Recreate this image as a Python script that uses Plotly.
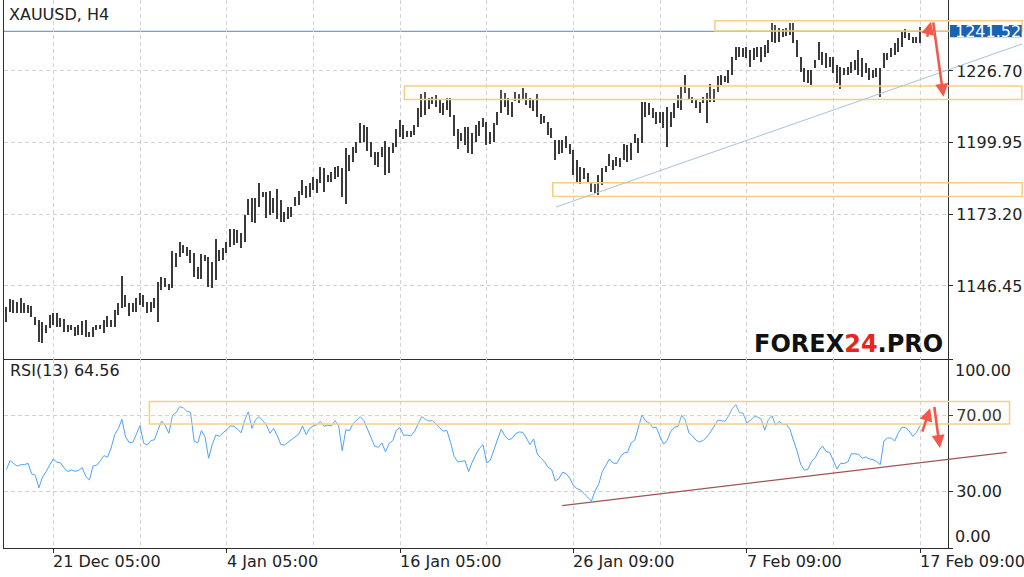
import plotly.graph_objects as go

# ---------------- data ----------------
tick_labels = ["21 Dec 05:00", "4 Jan 05:00", "16 Jan 05:00", "26 Jan 09:00", "7 Feb 09:00", "17 Feb 09:00"]
tick_bars = [13, 61, 109, 157, 205, 253]
grid_bars = [37, 85, 133, 181, 229]
price_ticks = [1146.45, 1173.20, 1199.95, 1226.70]
rsi_ticks = [0, 30, 70, 100]
last_price = 1241.52
rsi_last = 64.56

highs = [
    1138.7, 1141.5, 1141.2, 1140.6, 1141.8, 1140.0, 1139.3, 1139.1, 1135.0, 1133.7,
    1133.1, 1131.9, 1135.6, 1136.5, 1136.5, 1134.4, 1134.0, 1131.9, 1131.9, 1131.0,
    1131.9, 1133.5, 1133.7, 1129.4, 1131.2, 1131.9, 1131.9, 1133.7, 1135.2, 1133.7,
    1137.5, 1140.0, 1150.2, 1143.1, 1140.0, 1140.0, 1141.8, 1143.7, 1143.1, 1140.6,
    1140.6, 1141.8, 1148.0, 1149.8, 1149.3, 1147.2, 1159.5, 1158.6, 1163.0, 1161.7,
    1160.9, 1159.9, 1158.6, 1153.6, 1158.4, 1158.0, 1157.2, 1155.5, 1164.0, 1159.9,
    1160.5, 1163.0, 1167.6, 1167.6, 1167.3, 1166.3, 1172.9, 1178.8, 1179.2, 1179.2,
    1184.8, 1181.6, 1181.6, 1182.0, 1179.2, 1182.5, 1178.5, 1174.2, 1176.0, 1175.8,
    1179.8, 1182.0, 1186.0, 1183.8, 1185.0, 1187.0, 1186.3, 1190.7, 1190.4, 1187.9,
    1189.1, 1190.7, 1191.2, 1190.4, 1197.8, 1195.3, 1198.4, 1200.3, 1207.2, 1206.5,
    1205.9, 1200.3, 1196.6, 1196.6, 1198.4, 1200.7, 1198.4, 1199.7, 1204.9, 1208.4,
    1206.5, 1204.4, 1204.4, 1206.5, 1212.8, 1218.1, 1219.0, 1216.5, 1217.1, 1217.7,
    1215.9, 1214.9, 1216.5, 1216.5, 1210.3, 1204.9, 1203.7, 1205.7, 1205.7, 1203.4,
    1206.5, 1208.1, 1209.0, 1207.8, 1204.0, 1207.2, 1211.5, 1219.6, 1218.6, 1216.5,
    1215.2, 1219.0, 1218.1, 1220.2, 1218.6, 1216.5, 1216.1, 1218.1, 1210.6, 1209.9,
    1207.8, 1205.3, 1200.9, 1200.9, 1200.9, 1202.4, 1199.4, 1197.2, 1193.5, 1191.0,
    1190.4, 1188.5, 1185.4, 1184.5, 1187.9, 1190.4, 1191.2, 1195.6, 1193.5, 1194.7,
    1194.1, 1199.4, 1199.1, 1199.7, 1203.2, 1201.6, 1215.2, 1215.2, 1214.6, 1212.8,
    1211.5, 1211.5, 1211.5, 1213.4, 1211.5, 1214.6, 1217.7, 1220.8, 1225.2, 1220.2,
    1217.1, 1215.9, 1215.2, 1217.1, 1218.6, 1221.8, 1219.9, 1224.8, 1225.2, 1224.8,
    1227.1, 1232.0, 1235.8, 1235.8, 1235.2, 1235.8, 1234.5, 1235.2, 1235.8, 1235.8,
    1236.4, 1238.3, 1244.7, 1243.9, 1242.6, 1242.3, 1242.6, 1244.5, 1244.7, 1238.3,
    1232.0, 1227.7, 1227.1, 1227.1, 1230.8, 1237.6, 1233.9, 1233.3, 1232.0, 1232.0,
    1228.9, 1228.3, 1227.7, 1228.3, 1230.2, 1230.8, 1234.5, 1231.4, 1229.6, 1227.7,
    1227.1, 1227.7, 1227.7, 1233.3, 1233.3, 1235.2, 1237.0, 1238.9, 1241.4, 1242.3,
    1240.8, 1239.5, 1239.3, 1243.2,
]

lows = [
    1133.1, 1136.8, 1136.5, 1136.5, 1136.5, 1136.5, 1136.5, 1135.0, 1131.9, 1125.6,
    1125.3, 1128.8, 1130.6, 1131.9, 1131.2, 1131.2, 1129.4, 1129.4, 1130.0, 1127.8,
    1128.1, 1128.1, 1127.5, 1127.3, 1127.5, 1130.0, 1130.3, 1129.0, 1131.2, 1131.0,
    1131.2, 1135.6, 1138.1, 1138.7, 1135.2, 1136.8, 1136.8, 1139.3, 1138.7, 1136.2,
    1136.8, 1138.1, 1133.1, 1144.9, 1146.2, 1144.9, 1145.6, 1153.6, 1157.2, 1158.6,
    1157.6, 1155.1, 1149.9, 1148.9, 1148.9, 1155.9, 1146.2, 1145.6, 1148.7, 1155.9,
    1156.1, 1158.6, 1160.9, 1161.7, 1162.6, 1160.5, 1163.0, 1172.9, 1170.4, 1170.1,
    1176.0, 1179.8, 1171.7, 1172.9, 1173.6, 1171.3, 1170.3, 1170.3, 1171.3, 1172.3,
    1176.3, 1176.7, 1180.4, 1179.2, 1179.6, 1182.3, 1181.0, 1185.0, 1181.6, 1185.4,
    1185.4, 1186.3, 1187.2, 1179.6, 1177.0, 1189.5, 1192.8, 1196.2, 1199.7, 1200.3,
    1196.9, 1194.5, 1191.6, 1191.0, 1194.5, 1187.9, 1188.7, 1196.2, 1198.4, 1202.0,
    1201.2, 1202.0, 1202.2, 1202.8, 1205.7, 1209.6, 1210.3, 1212.4, 1214.4, 1213.1,
    1210.9, 1210.3, 1212.1, 1209.6, 1202.4, 1197.5, 1200.7, 1199.1, 1196.0, 1195.7,
    1200.3, 1202.4, 1205.9, 1199.1, 1199.4, 1200.3, 1206.5, 1210.9, 1213.4, 1210.3,
    1209.4, 1215.6, 1214.6, 1215.9, 1214.0, 1212.8, 1211.9, 1209.6, 1206.9, 1207.2,
    1202.8, 1201.6, 1193.5, 1195.7, 1196.0, 1198.0, 1195.7, 1187.9, 1185.4, 1184.5,
    1186.3, 1184.8, 1181.6, 1181.0, 1180.4, 1184.1, 1189.1, 1191.2, 1189.7, 1191.2,
    1190.7, 1193.5, 1192.8, 1193.5, 1199.7, 1196.2, 1199.7, 1209.6, 1210.3, 1209.0,
    1206.9, 1207.4, 1205.3, 1198.2, 1205.9, 1209.0, 1212.8, 1212.1, 1218.4, 1215.9,
    1214.6, 1212.8, 1211.1, 1214.6, 1207.4, 1215.2, 1215.2, 1218.9, 1221.5, 1222.7,
    1222.3, 1225.2, 1230.8, 1232.0, 1232.0, 1231.4, 1228.1, 1230.8, 1232.0, 1230.2,
    1232.0, 1233.3, 1237.6, 1237.0, 1237.6, 1239.5, 1239.8, 1240.1, 1237.0, 1232.0,
    1226.4, 1222.7, 1222.1, 1221.5, 1227.7, 1230.8, 1228.9, 1227.7, 1228.3, 1225.8,
    1222.1, 1219.9, 1225.2, 1225.2, 1226.1, 1227.1, 1225.2, 1224.6, 1225.8, 1223.3,
    1224.0, 1224.6, 1217.1, 1227.7, 1230.8, 1232.0, 1232.7, 1233.9, 1235.8, 1238.9,
    1238.3, 1237.0, 1237.0, 1237.0,
]

rsi = [
    41.5, 46.2, 44.7, 43.3, 44.1, 44.1, 44.8, 39.2, 38.5, 31.8,
    37.6, 40.4, 44.0, 47.1, 45.4, 45.0, 42.4, 40.4, 41.3, 40.6,
    41.0, 42.5, 37.8, 36.0, 43.4, 43.8, 46.1, 48.9, 48.0, 52.9,
    60.0, 63.2, 68.1, 58.8, 55.8, 55.9, 60.2, 64.7, 55.6, 54.5,
    56.8, 57.3, 62.6, 67.2, 64.7, 60.7, 70.2, 71.6, 74.8, 74.1,
    72.3, 71.8, 56.5, 55.6, 62.1, 58.9, 47.5, 54.7, 59.8, 59.1,
    61.0, 62.5, 64.6, 64.4, 62.8, 61.0, 67.7, 72.1, 63.3, 67.9,
    69.5, 67.0, 65.1, 60.7, 63.3, 59.5, 54.7, 54.5, 55.9, 57.2,
    58.8, 60.3, 64.6, 60.0, 63.3, 64.6, 65.3, 67.0, 64.4, 64.9,
    64.6, 67.4, 64.7, 51.5, 62.6, 62.1, 65.8, 67.6, 69.5, 67.4,
    62.6, 58.0, 53.8, 53.3, 55.6, 50.8, 55.4, 56.8, 62.3, 63.7,
    59.6, 59.8, 59.3, 61.6, 65.3, 69.5, 68.1, 67.2, 67.4, 65.3,
    63.5, 61.9, 62.1, 55.9, 48.4, 45.5, 45.7, 46.2, 40.4, 45.5,
    49.4, 52.8, 54.7, 45.0, 46.4, 51.9, 57.3, 62.8, 59.5, 57.3,
    57.9, 60.5, 61.4, 61.2, 58.2, 54.7, 57.7, 49.8, 47.5, 45.7,
    42.7, 41.5, 35.5, 36.7, 40.1, 39.4, 36.9, 33.2, 31.4, 30.7,
    28.8, 26.5, 24.8, 30.2, 33.6, 40.3, 44.0, 47.1, 45.0, 44.7,
    48.0, 50.3, 50.6, 55.6, 57.0, 64.2, 70.4, 67.2, 66.2, 63.7,
    63.7, 58.9, 54.9, 57.0, 61.8, 63.9, 64.4, 70.2, 67.7, 60.9,
    59.3, 57.0, 56.1, 57.0, 58.8, 61.4, 64.7, 67.6, 67.4, 67.0,
    69.9, 73.7, 75.8, 71.6, 71.4, 66.2, 67.4, 69.5, 69.3, 68.3,
    62.3, 67.9, 70.0, 65.1, 67.0, 65.4, 65.4, 62.8, 56.6, 51.0,
    44.0, 41.1, 41.8, 45.9, 47.8, 51.7, 54.0, 51.0, 50.6, 46.2,
    41.8, 44.8, 44.7, 45.5, 49.9, 49.8, 49.6, 47.5, 48.2, 47.1,
    46.8, 45.7, 44.1, 56.6, 58.2, 58.2, 56.6, 61.0, 63.9, 63.7,
    61.9, 59.1, 61.2, rsi_last,
]

# analyst drawings (bar index / price or RSI value)
price_zones = [(196.2, 281.3, 1241.6, 1245.5), (110.2, 281.2, 1216.1, 1221.1), (151.3, 281.3, 1179.8, 1185.0)]
rsi_zone = (39.6, 277.8, 65.6, 77.5)
price_trend = ((152.2, 1175.9), (281.3, 1236.8))
rsi_trend = ((153.9, 22.4), (277.0, 50.6))
price_arrows = [((254.9, 1238.9), (256.0, 1245.1)), ((256.6, 1245.4), (259.5, 1217.1))]
rsi_arrows = [((253.5, 60.8), (255.8, 74.0)), ((256.9, 75.4), (258.5, 52.9))]

# ---------------- figure ----------------
W, H = 1024, 577
ML, MR, MT, MB = 4, 76, 0, 29
PW, PH = W - ML - MR, H - MT - MB
XR = [-0.66, 260.75]
Y1 = [1119.18, 1253.2]
Y2 = [0, 100]
split = (PH - 359) / PH

FONT = "DejaVu Sans"
TXT = "#222222"
AX = "#2e2e2e"
GRID = "#d2d2d2"
ZONE = "#f2d088"
RED = "#f2584b"


def bx(i):
    return (i - XR[0]) / (XR[1] - XR[0])


def pxx(px):
    return (px - ML) / PW


def pxy(py):
    return (PH - (py - MT)) / PH


n = len(highs)
idx = list(range(n))
ranges = [h - l for h, l in zip(highs, lows)]

fig = go.Figure()
fig.add_trace(go.Bar(x=idx, y=ranges, base=lows, width=0.38,
                     marker=dict(color="#3a3a3a", line=dict(width=0)),
                     xaxis="x", yaxis="y", hoverinfo="skip"))
fig.add_trace(go.Scatter(x=idx, y=rsi, mode="lines",
                         line=dict(color="#4ea3f5", width=1),
                         xaxis="x2", yaxis="y2", hoverinfo="skip"))

shapes = []
# current price line
shapes.append(dict(type="line", xref="paper", yref="y", x0=0, x1=1, y0=last_price, y1=last_price,
                   line=dict(color="#4f87c6", width=1), layer="between"))
for x0, x1, y0, y1 in price_zones:
    shapes.append(dict(type="rect", xref="paper", yref="y", x0=bx(x0), x1=bx(x1), y0=y0, y1=y1,
                       line=dict(color=ZONE, width=1.5), fillcolor="rgba(255,240,205,0.12)", layer="above"))
x0, x1, y0, y1 = rsi_zone
shapes.append(dict(type="rect", xref="paper", yref="y2", x0=bx(x0), x1=bx(x1), y0=y0, y1=y1,
                   line=dict(color=ZONE, width=1.5), fillcolor="rgba(255,240,205,0.12)", layer="above"))
(a, b), (c, d) = price_trend
shapes.append(dict(type="line", xref="paper", yref="y", x0=bx(a), y0=b, x1=bx(c), y1=d,
                   line=dict(color="#a9c3db", width=1), layer="above"))
(a, b), (c, d) = rsi_trend
shapes.append(dict(type="line", xref="paper", yref="y2", x0=bx(a), y0=b, x1=bx(c), y1=d,
                   line=dict(color="#a05454", width=1.2), layer="above"))
# price label box
shapes.append(dict(type="rect", xref="paper", yref="y", x0=pxx(950), x1=pxx(1021.7),
                   y0=1239.3, y1=1243.9, fillcolor="#1c62b3", line=dict(width=0), layer="above"))

annotations = []
for (tx, ty), (hx, hy) in price_arrows:
    annotations.append(dict(x=hx, y=hy, ax=tx, ay=ty, xref="x", yref="y", axref="x", ayref="y",
                            text="", showarrow=True, arrowhead=2, arrowsize=1, arrowwidth=2.6,
                            arrowcolor=RED))
for (tx, ty), (hx, hy) in rsi_arrows:
    annotations.append(dict(x=hx, y=hy, ax=tx, ay=ty, xref="x2", yref="y2", axref="x2", ayref="y2",
                            text="", showarrow=True, arrowhead=2, arrowsize=1, arrowwidth=2.6,
                            arrowcolor=RED))
annotations.append(dict(x=pxx(952.5), y=last_price, xref="paper", yref="y", xanchor="left",
                        yanchor="middle", text=f"{last_price:.2f}", showarrow=False,
                        font=dict(family=FONT, size=16, color="white")))
annotations.append(dict(x=pxx(7), y=pxy(14), xref="paper", yref="paper", xanchor="left",
                        yanchor="middle", text="XAUUSD, H4", showarrow=False,
                        font=dict(family=FONT, size=16, color=TXT)))
annotations.append(dict(x=pxx(8), y=pxy(370.5), xref="paper", yref="paper", xanchor="left",
                        yanchor="middle", text=f"RSI(13) {rsi_last:.2f}", showarrow=False,
                        font=dict(family=FONT, size=16, color=TXT)))
annotations.append(dict(x=pxx(952.5), y=100, xref="paper", yref="y2", xanchor="left",
                        yanchor="top", text="100.00", showarrow=False,
                        font=dict(family=FONT, size=16, color=TXT)))
annotations.append(dict(x=pxx(952.5), y=0, xref="paper", yref="y2", xanchor="left",
                        yanchor="bottom", text="0.00", showarrow=False,
                        font=dict(family=FONT, size=16, color=TXT)))
annotations.append(dict(x=pxx(752), y=pxy(344.5), xref="paper", yref="paper", xanchor="left",
                        yanchor="middle", showarrow=False,
                        text='<b>FOREX<span style="color:#e5261c">24</span>.PRO</b>',
                        font=dict(family=FONT, size=24, color="#111111")))
# time labels, drawn to the right of their tick mark
for tb, tl in zip(tick_bars, tick_labels):
    annotations.append(dict(x=tb, y=pxy(561), xref="x2", yref="paper", xanchor="left",
                            yanchor="middle", xshift=-2, text=tl, showarrow=False,
                            font=dict(family=FONT, size=16, color=TXT)))

grid_common = dict(showgrid=True, gridcolor=GRID, gridwidth=1, griddash="4px,3px", zeroline=False)
minor_grid = dict(tickvals=grid_bars, showgrid=True, gridcolor=GRID, gridwidth=1,
                  griddash="4px,3px", ticks="")

fig.update_layout(
    width=W, height=H,
    margin=dict(l=ML, r=MR, t=MT, b=MB, pad=0),
    paper_bgcolor="white", plot_bgcolor="white",
    showlegend=False, hovermode=False, bargap=0,
    xaxis=dict(domain=[0, 1], range=XR, anchor="y", tickvals=tick_bars, showticklabels=False,
               ticks="", showline=True, linecolor=AX, linewidth=1, minor=minor_grid, **grid_common),
    xaxis2=dict(domain=[0, 1], range=XR, anchor="y2", tickvals=tick_bars, showticklabels=False,
                ticks="outside", ticklen=4, tickcolor=AX, tickwidth=1,
                showline=True, linecolor=AX, linewidth=1, minor=minor_grid, **grid_common),
    yaxis=dict(domain=[split, 1], range=Y1, anchor="x", side="right",
               tickvals=price_ticks, ticktext=[f"{v:.2f}" for v in price_ticks],
               ticks="outside", ticklen=4, tickcolor=AX, tickwidth=1,
               tickfont=dict(family=FONT, size=16, color=TXT),
               showline=True, mirror=True, linecolor=AX, linewidth=1, **grid_common),
    yaxis2=dict(domain=[0, split], range=Y2, anchor="x2", side="right",
                tickvals=rsi_ticks, ticktext=["", "30.00", "70.00", ""],
                ticks="outside", ticklen=4, tickcolor=AX, tickwidth=1,
                tickfont=dict(family=FONT, size=16, color=TXT),
                showline=True, mirror=True, linecolor=AX, linewidth=1, **grid_common),
    shapes=shapes,
    annotations=annotations,
)

fig.write_html("out.html")
